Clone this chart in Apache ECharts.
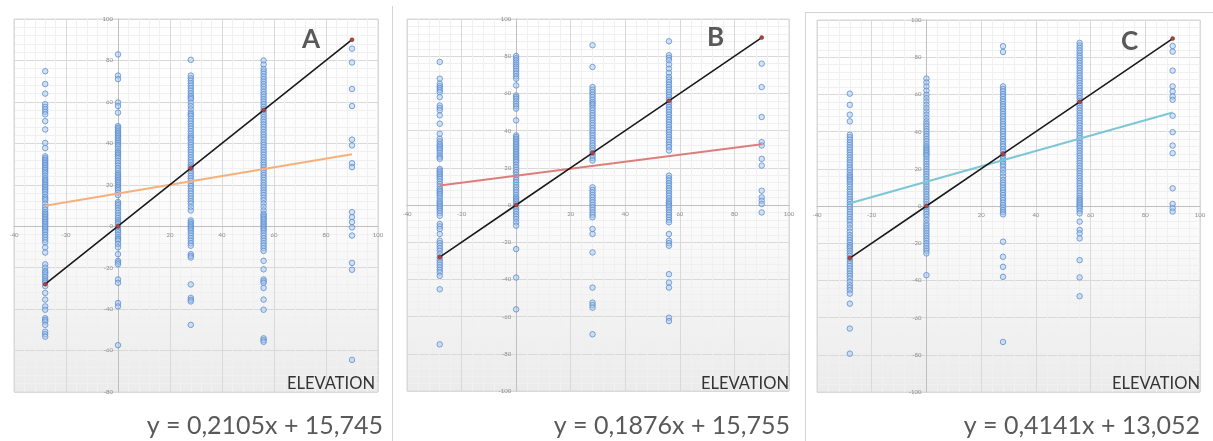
<!DOCTYPE html>
<html>
<head>
<meta charset="utf-8">
<script src="https://cdn.jsdelivr.net/npm/echarts@6/dist/echarts.min.js"></script>
<style>
html,body{margin:0;padding:0;background:#fff;}
#chart{width:1213px;height:441px;}
</style>
</head>
<body>
<div id="chart"></div>
<script>
// ---- data ----
const columnX = [-28, 0, 28, 56, 90];

const panelA_c1 = [74.8, 68.6, 64, 58.9, 57.6, 56.4, 55.2, 54, 50.7, 46.7, 40.2, 37.7, 33.7, 32.8, 32, 31.2, 30.4, 29.6, 28.8, 28, 27.2, 26.3, 25.5, 24.3, 23.1, 22.3, 21.5, 20.6, 19.8, 19, 18.2, 17.4, 16.6, 15.4, 14.1, 13.3, 12.5, 10.9, 9.3, 8, 6.8, 6, 5.2, 4.4, 3.6, 2.8, 2, 1.2, 0.3, -0.5, -1.3, -2.1, -2.9, -4.2, -5.4, -6.6, -7.8, -10.2, -12.7, -18.4, -20, -21.6, -22.4, -23.3, -24.5, -25.7, -26.5, -27.3, -28.9, -32.2, -35.4, -38.7, -40.3, -44.4, -45.2, -46, -47.6, -50.9, -52.1, -53.3];
const panelA_c2 = [82.9, 72.7, 71, 59.7, 58, 54.8, 48.3, 47.5, 46.7, 45.8, 45, 44.2, 43.4, 42.6, 41.8, 41, 40.2, 39.3, 38.5, 37.3, 36.1, 35.3, 34.5, 33.6, 32.8, 31.6, 30.4, 29.2, 28, 26.8, 25.5, 24.7, 23.9, 23.1, 22.3, 21.5, 20.7, 19.8, 19, 18.2, 17.4, 16.2, 15, 11.7, 10.9, 10.1, 8.8, 7.6, 6.4, 5.2, 4, 2.8, 1.9, 1.1, -0.1, -1.3, -2.1, -2.9, -4.1, -5.4, -6.2, -7, -8.6, -10.2, -13.5, -16.7, -17.5, -18.4, -25.7, -27.3, -37.1, -38.7, -57.4];
const panelA_c3 = [80.3, 72.7, 71.4, 70.2, 69, 67.8, 66.6, 65.4, 64.1, 62.9, 62.1, 61.3, 59.6, 58, 56.4, 54.8, 54, 53.2, 51.9, 50.7, 49.5, 48.3, 47.1, 45.9, 44.6, 43.4, 42.6, 41.8, 40.5, 39.3, 38.1, 36.9, 35.7, 34.5, 33.2, 32, 30.8, 29.6, 28.8, 28, 26.7, 25.5, 24.3, 23.1, 21.9, 20.7, 19.4, 18.2, 17, 15.8, 14.5, 13.3, 12.1, 10.9, 9.2, 7.6, 2.8, 1.9, 1.1, 0.3, -0.5, -1.3, -2.1, -3.3, -4.6, -5.8, -7, -8.2, -9.4, -13.5, -14.3, -15.1, -28.1, -34.6, -35.5, -36.3, -47.6];
const panelA_c4 = [80, 78, 75.9, 74.7, 73.5, 72.2, 71, 69.8, 68.6, 67.4, 66.2, 64.9, 63.7, 62.5, 61.3, 60.1, 58.9, 57.6, 56.4, 55.2, 54, 52.7, 51.5, 50.3, 49.1, 47.9, 46.7, 45.4, 44.2, 43, 41.8, 40.5, 39.3, 38.1, 36.9, 35.7, 34.5, 33.2, 32, 30.8, 29.6, 28.4, 27.2, 25.9, 24.7, 23.5, 22.3, 21, 19.8, 18.6, 17.4, 16.2, 15, 13.7, 12.5, 10.9, 9.3, 7.6, 6, 5.2, 4.4, 3.6, 2.8, 1.9, 1.1, 0.3, -0.5, -1.3, -2.1, -3.3, -4.6, -5.8, -7, -8.2, -9.4, -10.6, -11.9, -16.7, -20.8, -25.7, -26.5, -27.3, -29.8, -35.4, -40.3, -54.1, -55, -55.8];
const panelA_c5 = [85.7, 79, 66.2, 58, 41.8, 39, 30.4, 28.5, 6.8, 4.4, 2, -0.6, -4.5, -17.7, -21, -64.5];

const panelB_c1 = [76.9, 67.9, 65.2, 63.9, 62.9, 61.8, 60.7, 58, 53.5, 52.2, 50.9, 48.2, 43.7, 38.3, 35.6, 34.2, 32.9, 32, 31.1, 30.2, 29.3, 28, 26.6, 25.7, 24.8, 19.4, 18.5, 17.6, 16.7, 15.8, 14.9, 14, 12.6, 11.3, 10, 8.6, 7.7, 6.8, 5.9, 5, 3.7, 2.3, 1.4, 0.5, -0.4, -1.3, -2.2, -3.1, -4.4, -5.8, -10.2, -11.5, -12.9, -15.6, -19.2, -20.5, -21.9, -23.2, -24.6, -26.4, -28.2, -29.5, -30.9, -32.2, -33.6, -34.9, -36.3, -38.1, -45.3, -74.9];
const panelB_c2 = [80.1, 78.9, 77.8, 76.6, 75.5, 74.4, 73.3, 72, 70.6, 69.2, 67.9, 64.3, 58.9, 58, 57.1, 55.7, 54.4, 53.1, 51.8, 45.5, 37.4, 36.5, 35.6, 34.7, 33.8, 32.9, 32, 31.1, 30.2, 29.3, 28.4, 27.5, 26.6, 25.7, 24.8, 23.9, 23, 21.6, 20.3, 18.9, 17.6, 16.2, 14.9, 13.5, 12.2, 10.8, 9.5, 8.1, 6.8, 5.4, 4.1, 3.2, 2.3, 1.4, 0.5, -0.8, -2.2, -3.5, -4.9, -6.2, -7.5, -9.3, -11.1, -23.7, -39, -56.1];
const panelB_c3 = [85.9, 74.2, 63.4, 62, 60.7, 59.3, 58, 56.6, 55.3, 54.4, 53.5, 52.2, 50.9, 49.5, 48.2, 46.8, 45.5, 44.1, 42.8, 41.4, 40.1, 38.7, 37.4, 36, 34.7, 33.3, 32, 30.6, 29.3, 27.9, 26.6, 25.2, 23.9, 9.5, 8.1, 6.8, 5.4, 4.1, 2.7, 1.4, 0, -1.3, -2.6, -4, -5.3, -6.6, -12.9, -15.6, -25.5, -44.4, -52.5, -53.8, -55.2, -69.5];
const panelB_c4 = [88, 80.5, 79.1, 77.8, 75.5, 73.3, 71, 68.8, 67.4, 66.1, 64.7, 63.4, 62, 60.7, 59.3, 58, 56.6, 55.3, 54, 52.7, 51.3, 50, 48.6, 47.3, 45.9, 44.6, 43.2, 41.9, 40.5, 39.2, 37.8, 36.5, 35.1, 33.8, 32.4, 31.1, 29.3, 15.8, 14.4, 13.1, 11.7, 10.4, 9, 7.7, 6.3, 5, 3.6, 2.3, 1.4, 0.5, -0.4, -1.3, -2.6, -4, -5.3, -6.6, -8, -9.3, -15.6, -19.2, -20.5, -21.9, -37.2, -41.7, -44.4, -60.6, -62.4];
const panelB_c5 = [76, 63.4, 47.3, 33.8, 32, 24.8, 21.2, 7.7, 4.1, 2.3, 0.5, -4];

const panelC_c1 = [60.4, 54.4, 49.1, 45.5, 38.3, 37, 35.6, 34.2, 32.9, 31.5, 30.2, 28.8, 27.5, 26.1, 24.8, 23.4, 22.1, 20.7, 19.4, 18, 16.7, 15.8, 14.9, 14, 13.1, 11.7, 10.4, 9, 7.7, 6.3, 5, 3.6, 2.3, 0.9, -0.4, -1.7, -3.1, -4.4, -5.8, -7.1, -8.4, -10.2, -12, -13.8, -15.6, -17, -18.3, -19.6, -21, -21.9, -22.8, -24.1, -25.5, -26.8, -28.2, -29.5, -30.9, -32.2, -33.6, -34.9, -36.3, -37.6, -39, -40.8, -42.6, -43.9, -45.3, -47.1, -52.5, -65.9, -79.4];
const panelC_c2 = [68.5, 66.4, 64.3, 62, 59.8, 58, 56.2, 54.4, 52.6, 50.8, 49.1, 47.3, 45.5, 44.1, 42.8, 41.4, 40.1, 38.7, 37.4, 36, 34.7, 33.3, 32, 31.1, 30.2, 29.3, 28.4, 27.5, 26.6, 25.2, 23.9, 22.5, 21.2, 19.8, 18.5, 17.1, 15.8, 14.4, 13.1, 11.7, 10.4, 9, 7.7, 6.3, 5, 3.6, 2.3, 0.9, -0.4, -1.7, -3.1, -4.4, -5.8, -7.5, -9.3, -10.6, -12, -13.3, -14.7, -16, -17.4, -18.7, -20.1, -21.4, -22.8, -24.1, -25.5, -37.2];
const panelC_c3 = [85.9, 82.8, 64.3, 62.9, 61.6, 60.2, 58.9, 57.5, 56.2, 54.8, 53.5, 52.2, 50.9, 49.5, 48.2, 46.8, 45.5, 44.1, 42.8, 41.4, 40.1, 38.7, 37.4, 36, 34.7, 33.3, 32, 30.6, 29.3, 27.9, 26.6, 25.2, 23.9, 22.5, 21.2, 19.4, 17.6, 15.8, 14, 12.6, 11.3, 9.9, 8.6, 7.2, 5.9, 4.5, 3.2, 1.8, 0.5, -0.8, -2.2, -3.3, -4.5, -19.2, -27.3, -32.7, -38.1, -73.1];
const panelC_c4 = [87.7, 86.3, 85, 83.6, 82.3, 80.9, 79.6, 78.2, 76.9, 75.5, 74.2, 72.8, 71.5, 70.1, 68.8, 67.4, 66.1, 64.7, 63.4, 62, 60.7, 59.3, 58, 56.6, 55.3, 54, 52.7, 51.3, 50, 48.6, 47.3, 45.9, 44.6, 43.2, 41.9, 40.5, 39.2, 37.8, 36.5, 35.1, 33.8, 32.4, 31.1, 29.7, 28.4, 27, 25.7, 24.3, 23, 21.6, 20.3, 18.9, 17.6, 16.2, 14.9, 13.5, 12.2, 10.8, 9.5, 8.1, 6.8, 5.4, 4.1, 3.2, 2.3, 1.4, 0.5, -0.4, -1.3, -2.6, -4, -8.4, -12.9, -14.7, -17.4, -29.1, -38.4, -48.5];
const panelC_c5 = [86, 83, 72.8, 64.3, 61.6, 58.9, 57.1, 48.5, 39.7, 32.5, 28.4, 9.5, 1.1, -1.2, -3];

// observed = predicted reference line (black)
const refLine = [[-28, -28], [0, 0], [28, 28], [56, 56], [90, 90]];
// trend line endpoints
const trendA = [[-28, 9.9], [90, 34.7]];
const trendB = [[-28, 10.5], [90, 32.6]];
const trendC = [[-28, 1.5], [90, 50.3]];

const panelLabels = ['A', 'B', 'C'];
const equations = ['y = 0,2105x + 15,745', 'y = 0,1876x + 15,755', 'y = 0,4141x + 13,052'];
const xAxisTitle = 'ELEVATION';
const xRange = [-40, 100];
const yRanges = [[-80, 100], [-100, 100], [-100, 100]];

// ---- build ----
function cols(arrs) {
  const out = [];
  arrs.forEach((a, i) => a.forEach(v => out.push([columnX[i], v])));
  return out;
}
const scatterData = [
  cols([panelA_c1, panelA_c2, panelA_c3, panelA_c4, panelA_c5]),
  cols([panelB_c1, panelB_c2, panelB_c3, panelB_c4, panelB_c5]),
  cols([panelC_c1, panelC_c2, panelC_c3, panelC_c4, panelC_c5])
];
const trends = [trendA, trendB, trendC];
const trendColors = ['#f5b07e', '#dc7f7c', '#7cc6d6'];

const grids = [
  {left: 14, top: 19, width: 364, height: 373},
  {left: 407, top: 19, width: 382, height: 372},
  {left: 817, top: 20, width: 383, height: 372}
];
const labelPos = [
  {a: [302, 26.5], e: 375, q: 383},
  {a: [707, 24.5], e: 789, q: 790},
  {a: [1121, 28.5], e: 1200, q: 1200}
];

const chart = echarts.init(document.getElementById('chart'), null, {renderer: 'canvas'});

const bg = new echarts.graphic.LinearGradient(0, 0, 0, 1, [
  {offset: 0, color: '#ffffff'},
  {offset: 0.55, color: '#fbfbfb'},
  {offset: 1, color: '#ebebeb'}
]);

const option = {
  backgroundColor: '#ffffff',
  animation: false,
  grid: grids.map(g => Object.assign({show: true, backgroundColor: bg, borderColor: '#d9d9d9', borderWidth: 1}, g)),
  xAxis: grids.map((g, i) => ({
    type: 'value', gridIndex: i, min: xRange[0], max: xRange[1], interval: 20,
    position: 'bottom',
    // place the axis where y = 0 crosses
    offset: -g.height * (0 - yRanges[i][0]) / (yRanges[i][1] - yRanges[i][0]),
    axisLine: {show: true, onZero: false, lineStyle: {color: '#bfbfbf', width: 1}},
    axisTick: {show: false},
    axisLabel: {fontSize: 6, color: '#8c8c8c', margin: 6, fontFamily: 'Lato',
      formatter: v => v === 0 ? '' : String(v)},
    splitLine: {show: true, lineStyle: {color: '#d9d9d9', width: 1}},
    minorTick: {show: false, splitNumber: 5},
    minorSplitLine: {show: true, lineStyle: {color: '#f0f0f0', width: 1}}
  })),
  yAxis: grids.map((g, i) => ({
    type: 'value', gridIndex: i, min: yRanges[i][0], max: yRanges[i][1], interval: 20,
    position: 'left',
    offset: -g.width * (0 - xRange[0]) / (xRange[1] - xRange[0]),
    axisLine: {show: true, onZero: false, lineStyle: {color: '#bfbfbf', width: 1}},
    axisTick: {show: false},
    axisLabel: {fontSize: 6, color: '#8c8c8c', margin: 5, fontFamily: 'Lato'},
    splitLine: {show: true, lineStyle: {color: '#d9d9d9', width: 1}},
    minorTick: {show: false, splitNumber: 5},
    minorSplitLine: {show: true, lineStyle: {color: '#f0f0f0', width: 1}}
  })),
  series: [],
  graphic: []
};

for (let i = 0; i < 3; i++) {
  option.series.push({
    type: 'scatter', xAxisIndex: i, yAxisIndex: i, data: scatterData[i],
    symbol: 'circle', symbolSize: 5.5,
    itemStyle: {color: 'rgba(170,198,235,0.6)', borderColor: '#5b8ed2', borderWidth: 1},
    z: 2
  });
  option.series.push({
    type: 'line', xAxisIndex: i, yAxisIndex: i, data: trends[i],
    showSymbol: false, symbol: 'none',
    lineStyle: {color: trendColors[i], width: 2},
    z: 3
  });
  option.series.push({
    type: 'line', xAxisIndex: i, yAxisIndex: i, data: refLine,
    symbol: 'circle', symbolSize: 4, showSymbol: true,
    itemStyle: {color: '#b0413e', borderColor: '#7a2a28', borderWidth: 0.5},
    lineStyle: {color: '#1a1a1a', width: 1.6},
    z: 4
  });
  const p = labelPos[i];
  option.graphic.push({
    type: 'text', left: p.a[0], top: p.a[1], z: 10,
    style: {text: panelLabels[i], font: 'bold 26px Lato', fill: '#595959'}
  });
  option.graphic.push({
    type: 'text', right: 1213 - p.e, top: 375, z: 10,
    style: {text: xAxisTitle, font: '16.5px Lato', fill: '#333333'}
  });
  option.graphic.push({
    type: 'text', right: 1213 - p.q, top: 413, z: 10,
    style: {text: equations[i], font: '25px Lato', fill: '#595959'}
  });
}
// panel separators / frames
option.graphic.push(
  {type: 'line', shape: {x1: 392.5, y1: 6, x2: 392.5, y2: 441}, style: {stroke: '#d4d4d4', lineWidth: 1}, z: 1},
  {type: 'line', shape: {x1: 805.5, y1: 12, x2: 805.5, y2: 441}, style: {stroke: '#d4d4d4', lineWidth: 1}, z: 1},
  {type: 'line', shape: {x1: 805.5, y1: 12.5, x2: 1213, y2: 12.5}, style: {stroke: '#d4d4d4', lineWidth: 1}, z: 1}
);

chart.setOption(option);
</script>
</body>
</html>
